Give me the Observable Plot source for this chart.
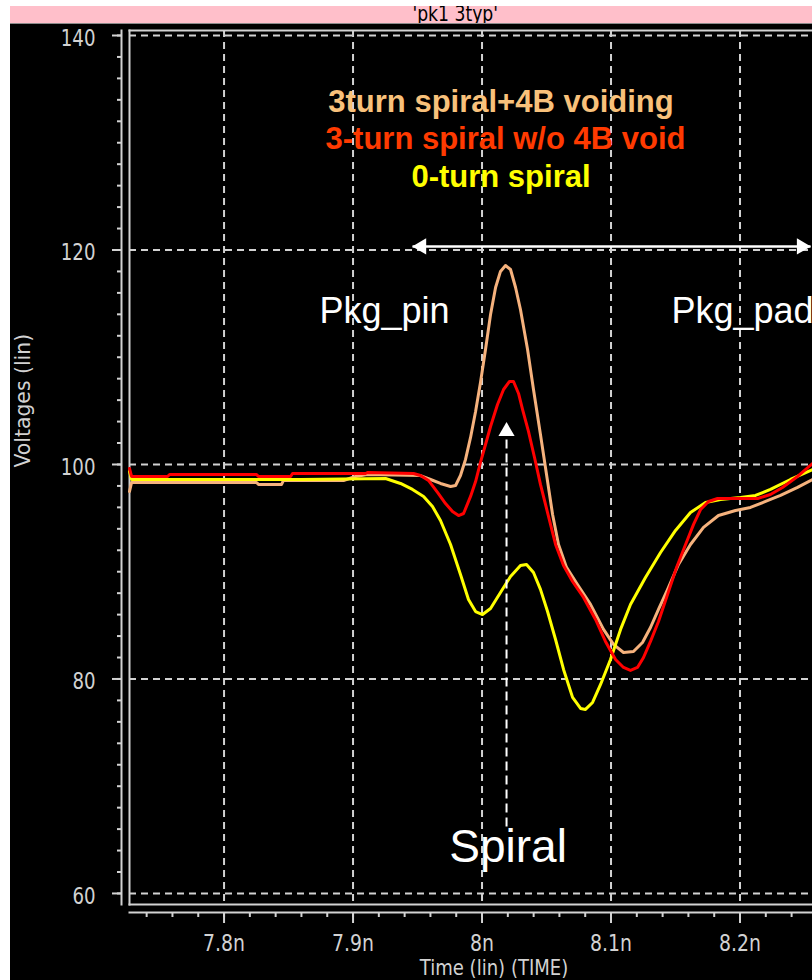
<!DOCTYPE html>
<html><head><meta charset="utf-8">
<script src="https://cdn.jsdelivr.net/npm/d3@7"></script>
<script src="https://cdn.jsdelivr.net/npm/@observablehq/plot@0.6"></script>
<style>
html,body{margin:0;padding:0;background:#fff;}
#wrap{margin-left:10px;padding-top:6px;width:802px;overflow:hidden;}
#banner{height:17px;background:#ffbfca;border-bottom:1px solid #8a8a8a;overflow:hidden;position:relative;}
#banner div{position:absolute;left:0;right:0;top:-2px;padding-left:88px;text-align:center;}
#banner span{display:inline-block;transform:scaleX(0.82);font-size:21px;line-height:21px;font-family:'DejaVu Sans',sans-serif;color:#000;}
#chart svg{display:block;}
</style></head><body>
<div id="wrap"><div id="banner"><div><span>'pk1 3typ'</span></div></div><div id="chart"></div></div>
<script>
// ---- data (time in ns, voltage) ----
const seriesNames = ["3turn spiral+4B voiding", "3-turn spiral w/o 4B void", "0-turn spiral"];

const peachTime = [7.7267,7.7283,7.8252,7.8267,7.8446,7.8461,7.8926,7.9019,7.9112,7.9523,7.9601,7.9678,7.9756,7.9795,7.9833,7.9872,7.9911,7.9950,7.9988,8.0027,8.0066,8.0105,8.0143,8.0182,8.0221,8.0260,8.0298,8.0353,8.0399,8.0453,8.0500,8.0547,8.0593,8.0655,8.0740,8.0841,8.0942,8.1019,8.1097,8.1174,8.1244,8.1306,8.1368,8.1438,8.1523,8.1616,8.1717,8.1833,8.1965,8.2081,8.2198,8.2314,8.2446,8.2562];
const peachVolt = [97.48,98.32,98.32,98.14,98.14,98.51,98.51,98.88,99.07,98.97,98.60,98.23,97.95,98.04,98.97,100.47,102.52,104.94,107.65,110.72,113.99,116.50,118.00,118.55,118.18,116.50,114.45,110.72,106.99,102.80,99.07,95.34,92.54,90.40,88.81,86.95,84.62,83.22,82.47,82.56,83.40,84.80,86.48,88.34,90.68,92.54,94.13,95.24,95.71,95.99,96.55,97.11,97.86,98.60];

const redTime = [7.7267,7.7283,7.7562,7.7578,7.8252,7.8267,7.8516,7.8531,7.9097,7.9112,7.9469,7.9523,7.9585,7.9655,7.9717,7.9771,7.9818,7.9857,7.9911,7.9950,7.9988,8.0027,8.0066,8.0120,8.0167,8.0213,8.0244,8.0283,8.0314,8.0360,8.0407,8.0453,8.0508,8.0570,8.0632,8.0702,8.0787,8.0880,8.0957,8.1035,8.1097,8.1151,8.1205,8.1252,8.1306,8.1368,8.1438,8.1508,8.1578,8.1640,8.1694,8.1756,8.1826,8.2136,8.2236,8.2329,8.2446,8.2562];
const redVolt = [99.63,98.88,98.88,99.07,99.07,98.88,98.88,99.16,99.16,99.25,99.16,98.97,98.51,97.39,96.36,95.62,95.24,95.43,97.02,98.41,100.19,101.86,103.54,105.59,106.99,107.74,107.74,106.62,105.13,103.08,100.65,98.14,95.52,92.54,90.58,89.09,87.60,85.55,83.50,81.82,81.07,80.79,81.07,82.00,83.50,85.36,87.88,90.40,92.54,94.41,95.80,96.55,96.83,96.83,97.20,97.86,98.88,100.09];

const yellowTime = [7.7267,7.7283,7.8593,7.9252,7.9368,7.9461,7.9547,7.9616,7.9678,7.9756,7.9833,7.9895,7.9950,8.0004,8.0066,8.0143,8.0221,8.0298,8.0345,8.0399,8.0453,8.0508,8.0570,8.0632,8.0702,8.0764,8.0802,8.0857,8.0919,8.0996,8.1074,8.1151,8.1267,8.1384,8.1500,8.1616,8.1733,8.1849,8.2004,8.2120,8.2236,8.2391,8.2562];
const yellowVolt = [99.35,98.60,98.60,98.69,98.23,97.67,97.02,96.08,94.78,92.54,89.74,87.41,86.29,86.01,86.57,88.07,89.56,90.58,90.68,89.93,88.35,86.29,83.68,80.89,78.28,77.25,77.16,77.81,79.49,81.82,84.62,86.95,89.46,91.79,93.85,95.52,96.46,96.74,96.92,97.11,97.67,98.60,99.53];

const yTicks = [60, 80, 100, 120, 140];
const yMinorTicks = d3.range(30, 71).map(i => i * 2);
const xTicks = [7.8, 7.9, 8.0, 8.1, 8.2];
const xTickLabels = ["7.8n", "7.9n", "8n", "8.1n", "8.2n"];
const xMinorTicks = d3.range(387, 413).map(i => i / 50);

// ---- styling ----
const lineColors = ["#f6b27d", "#ff0000", "#ffff00"];
const textColors = ["#f8c17b", "#ff3a00", "#ffff00"];
const axisColor = "#d2d2d2";
const narrow = "'DejaVu Sans',sans-serif";
const arial = "'Liberation Sans',Arial,sans-serif";

const series = [
  {name: seriesNames[0], t: peachTime, v: peachVolt, color: lineColors[0]},
  {name: seriesNames[2], t: yellowTime, v: yellowVolt, color: lineColors[2]},
  {name: seriesNames[1], t: redTime, v: redVolt, color: lineColors[1]}
];

// annotation anchors (data units)
const legendPos = [{x: 8.0147, y: 132.91}, {x: 8.0182, y: 129.37}, {x: 8.0147, y: 125.83}];
const spanArrow = [{x1: 7.9461, x2: 8.2547, y: 120.33}];
const spiralArrow = [{x: 8.019, y1: 66.25, y2: 102.6, tip: 103.92}];

const marks = [
  Plot.gridX(xTicks, {stroke: axisColor, strokeOpacity: 1, strokeWidth: 2, strokeDasharray: "7,5"}),
  Plot.gridY(yTicks, {stroke: axisColor, strokeOpacity: 1, strokeWidth: 2, strokeDasharray: "7,5"}),
  Plot.frame({anchor: "top", stroke: axisColor, strokeWidth: 2}),
  Plot.frame({anchor: "left", stroke: axisColor, strokeWidth: 2}),
  Plot.frame({anchor: "bottom", stroke: axisColor, strokeWidth: 2}),
  Plot.frame({anchor: "left", stroke: axisColor, strokeWidth: 2, dx: -8}),
  Plot.frame({anchor: "bottom", stroke: axisColor, strokeWidth: 2, dy: 8}),
  Plot.axisY(yMinorTicks, {anchor: "left", tickSize: 4, dx: -8, color: axisColor, strokeWidth: 2, tickFormat: () => "", label: null}),
  Plot.axisY(yTicks, {anchor: "left", tickSize: 9, dx: -8, color: axisColor, strokeWidth: 2, tickFormat: () => "", label: null}),
  Plot.axisY(yTicks, {anchor: "left", tickSize: 0, tickPadding: 26, dx: -8, dy: 3, color: axisColor, fontSize: 23, fontFamily: narrow, label: null}),
  Plot.axisX(xMinorTicks, {anchor: "bottom", tickSize: 5, dy: 8, color: axisColor, strokeWidth: 2, tickFormat: () => "", label: null}),
  Plot.axisX(xTicks, {anchor: "bottom", tickSize: 11, tickPadding: 11, dy: 8, color: axisColor, strokeWidth: 2, fontSize: 23, fontFamily: narrow, tickFormat: (d, i) => xTickLabels[i], label: null}),
  Plot.text(["Voltages (lin)"], {frameAnchor: "left", rotate: -90, dx: -106, fill: axisColor, fontSize: 21, fontFamily: narrow}),
  Plot.text(["Time (lin) (TIME)"], {frameAnchor: "bottom", lineAnchor: "bottom", dx: 23, dy: 70, fill: axisColor, fontSize: 22, fontFamily: narrow}),
  ...series.map(s => Plot.line(s.t.map((t, i) => ({t, v: s.v[i]})), {x: "t", y: "v", stroke: s.color, strokeWidth: 3})),
  ...seriesNames.map((name, i) => Plot.text([name], {x: legendPos[i].x, y: legendPos[i].y, lineAnchor: "bottom", fill: textColors[i], fontSize: 31, fontWeight: "bold", fontFamily: arial})),
  Plot.text(["Pkg_pin"], {x: 7.874, y: 113.15, textAnchor: "start", lineAnchor: "bottom", fill: "#fff", fontSize: 36, fontFamily: arial}),
  Plot.text(["Pkg_pad"], {x: 8.1469, y: 113.15, textAnchor: "start", lineAnchor: "bottom", fill: "#fff", fontSize: 36, fontFamily: arial}),
  Plot.text(["Spiral"], {x: 8.0202, y: 62.89, lineAnchor: "bottom", fill: "#fff", fontSize: 46, fontFamily: arial}),
  Plot.link(spanArrow, {x1: "x1", x2: "x2", y1: "y", y2: "y", stroke: "#fff", strokeWidth: 2.5}),
  Plot.dot(spanArrow, {x: "x1", y: "y", symbol: "triangle", r: 6, rotate: -90, dx: 9, fill: "#fff", stroke: "none"}),
  Plot.dot(spanArrow, {x: "x2", y: "y", symbol: "triangle", r: 6, rotate: 90, dx: -9, fill: "#fff", stroke: "none"}),
  Plot.link(spiralArrow, {x1: "x", x2: "x", y1: "y1", y2: "y2", stroke: "#fff", strokeWidth: 2, strokeDasharray: "9,5"}),
  Plot.dot(spiralArrow, {x: "x", y: "tip", symbol: "triangle", r: 6, dy: 9, fill: "#fff", stroke: "none"})
];

const chart = Plot.plot({
  width: 802,
  height: 956,
  marginLeft: 119,
  marginRight: 0,
  marginTop: 6,
  marginBottom: 76,
  style: {background: "#000", color: axisColor, overflow: "hidden"},
  x: {domain: [7.7267, 8.2562], axis: null},
  y: {domain: [58.97, 140.466], axis: null},
  marks
});
document.getElementById("chart").appendChild(chart);

// condense the axis texts to mimic the narrow bitmap font of the original
const condense = new Map([
  ["Voltages (lin)", 0.97], ["Time (lin) (TIME)", 0.82]
]);
xTickLabels.forEach(l => condense.set(l, 0.82));
yTicks.forEach(v => condense.set(String(v), 0.79));
chart.querySelectorAll("text").forEach(t => {
  const f = condense.get(t.textContent);
  if (f) {
    const w = t.getComputedTextLength();
    if (w > 0) { t.setAttribute("textLength", (w * f).toFixed(1)); t.setAttribute("lengthAdjust", "spacingAndGlyphs"); }
  }
});
</script></body></html>
